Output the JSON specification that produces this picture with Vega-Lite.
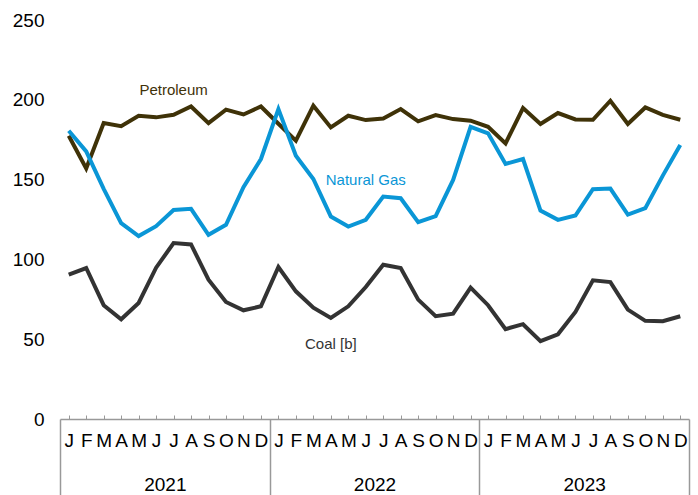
{
  "$schema": "https://vega.github.io/schema/vega-lite/v6.json",
  "autosize": "none",
  "width": 629,
  "height": 399,
  "padding": {"left": 60, "top": 20, "right": 9, "bottom": 76},
  "config": {"view": {"stroke": null}, "font": "Liberation Sans"},
  "datasets": {
    "series": [
      {"date": "2021-01", "series": "Coal", "value": 90.4},
      {"date": "2021-02", "series": "Coal", "value": 94.6},
      {"date": "2021-03", "series": "Coal", "value": 71.3},
      {"date": "2021-04", "series": "Coal", "value": 62.5},
      {"date": "2021-05", "series": "Coal", "value": 72.7},
      {"date": "2021-06", "series": "Coal", "value": 94.8},
      {"date": "2021-07", "series": "Coal", "value": 110.2},
      {"date": "2021-08", "series": "Coal", "value": 109.4},
      {"date": "2021-09", "series": "Coal", "value": 87.3},
      {"date": "2021-10", "series": "Coal", "value": 73.3},
      {"date": "2021-11", "series": "Coal", "value": 68.1},
      {"date": "2021-12", "series": "Coal", "value": 70.6},
      {"date": "2022-01", "series": "Coal", "value": 95.2},
      {"date": "2022-02", "series": "Coal", "value": 80},
      {"date": "2022-03", "series": "Coal", "value": 69.8},
      {"date": "2022-04", "series": "Coal", "value": 63.3},
      {"date": "2022-05", "series": "Coal", "value": 70.6},
      {"date": "2022-06", "series": "Coal", "value": 82.7},
      {"date": "2022-07", "series": "Coal", "value": 96.7},
      {"date": "2022-08", "series": "Coal", "value": 94.6},
      {"date": "2022-09", "series": "Coal", "value": 74.8},
      {"date": "2022-10", "series": "Coal", "value": 64.4},
      {"date": "2022-11", "series": "Coal", "value": 66},
      {"date": "2022-12", "series": "Coal", "value": 82.3},
      {"date": "2023-01", "series": "Coal", "value": 71.3},
      {"date": "2023-02", "series": "Coal", "value": 56.3},
      {"date": "2023-03", "series": "Coal", "value": 59.4},
      {"date": "2023-04", "series": "Coal", "value": 48.8},
      {"date": "2023-05", "series": "Coal", "value": 53.1},
      {"date": "2023-06", "series": "Coal", "value": 67.1},
      {"date": "2023-07", "series": "Coal", "value": 86.9},
      {"date": "2023-08", "series": "Coal", "value": 85.8},
      {"date": "2023-09", "series": "Coal", "value": 68.5},
      {"date": "2023-10", "series": "Coal", "value": 61.5},
      {"date": "2023-11", "series": "Coal", "value": 61.3},
      {"date": "2023-12", "series": "Coal", "value": 64.4},
      {"date": "2021-01", "series": "Petroleum", "value": 177.5},
      {"date": "2021-02", "series": "Petroleum", "value": 157},
      {"date": "2021-03", "series": "Petroleum", "value": 185.4},
      {"date": "2021-04", "series": "Petroleum", "value": 183.5},
      {"date": "2021-05", "series": "Petroleum", "value": 190},
      {"date": "2021-06", "series": "Petroleum", "value": 189},
      {"date": "2021-07", "series": "Petroleum", "value": 190.6},
      {"date": "2021-08", "series": "Petroleum", "value": 195.8},
      {"date": "2021-09", "series": "Petroleum", "value": 185.4},
      {"date": "2021-10", "series": "Petroleum", "value": 193.8},
      {"date": "2021-11", "series": "Petroleum", "value": 190.8},
      {"date": "2021-12", "series": "Petroleum", "value": 195.8},
      {"date": "2022-01", "series": "Petroleum", "value": 185},
      {"date": "2022-02", "series": "Petroleum", "value": 174.4},
      {"date": "2022-03", "series": "Petroleum", "value": 196.3},
      {"date": "2022-04", "series": "Petroleum", "value": 182.7},
      {"date": "2022-05", "series": "Petroleum", "value": 190},
      {"date": "2022-06", "series": "Petroleum", "value": 187.3},
      {"date": "2022-07", "series": "Petroleum", "value": 188.3},
      {"date": "2022-08", "series": "Petroleum", "value": 194.2},
      {"date": "2022-09", "series": "Petroleum", "value": 186.5},
      {"date": "2022-10", "series": "Petroleum", "value": 190.4},
      {"date": "2022-11", "series": "Petroleum", "value": 187.9},
      {"date": "2022-12", "series": "Petroleum", "value": 186.9},
      {"date": "2023-01", "series": "Petroleum", "value": 183.1},
      {"date": "2023-02", "series": "Petroleum", "value": 172.7},
      {"date": "2023-03", "series": "Petroleum", "value": 194.8},
      {"date": "2023-04", "series": "Petroleum", "value": 184.8},
      {"date": "2023-05", "series": "Petroleum", "value": 191.7},
      {"date": "2023-06", "series": "Petroleum", "value": 187.7},
      {"date": "2023-07", "series": "Petroleum", "value": 187.5},
      {"date": "2023-08", "series": "Petroleum", "value": 199.4},
      {"date": "2023-09", "series": "Petroleum", "value": 184.8},
      {"date": "2023-10", "series": "Petroleum", "value": 195.2},
      {"date": "2023-11", "series": "Petroleum", "value": 190.6},
      {"date": "2023-12", "series": "Petroleum", "value": 187.5},
      {"date": "2021-01", "series": "Natural Gas", "value": 180.6},
      {"date": "2021-02", "series": "Natural Gas", "value": 167.7},
      {"date": "2021-03", "series": "Natural Gas", "value": 144.2},
      {"date": "2021-04", "series": "Natural Gas", "value": 122.7},
      {"date": "2021-05", "series": "Natural Gas", "value": 114.6},
      {"date": "2021-06", "series": "Natural Gas", "value": 120.8},
      {"date": "2021-07", "series": "Natural Gas", "value": 131},
      {"date": "2021-08", "series": "Natural Gas", "value": 131.7},
      {"date": "2021-09", "series": "Natural Gas", "value": 115.4},
      {"date": "2021-10", "series": "Natural Gas", "value": 121.7},
      {"date": "2021-11", "series": "Natural Gas", "value": 145.2},
      {"date": "2021-12", "series": "Natural Gas", "value": 162.9},
      {"date": "2022-01", "series": "Natural Gas", "value": 194.2},
      {"date": "2022-02", "series": "Natural Gas", "value": 165},
      {"date": "2022-03", "series": "Natural Gas", "value": 150.4},
      {"date": "2022-04", "series": "Natural Gas", "value": 126.9},
      {"date": "2022-05", "series": "Natural Gas", "value": 120.6},
      {"date": "2022-06", "series": "Natural Gas", "value": 124.8},
      {"date": "2022-07", "series": "Natural Gas", "value": 139.4},
      {"date": "2022-08", "series": "Natural Gas", "value": 138.3},
      {"date": "2022-09", "series": "Natural Gas", "value": 123.3},
      {"date": "2022-10", "series": "Natural Gas", "value": 127.1},
      {"date": "2022-11", "series": "Natural Gas", "value": 149.8},
      {"date": "2022-12", "series": "Natural Gas", "value": 183.1},
      {"date": "2023-01", "series": "Natural Gas", "value": 179},
      {"date": "2023-02", "series": "Natural Gas", "value": 159.8},
      {"date": "2023-03", "series": "Natural Gas", "value": 162.9},
      {"date": "2023-04", "series": "Natural Gas", "value": 130.6},
      {"date": "2023-05", "series": "Natural Gas", "value": 124.8},
      {"date": "2023-06", "series": "Natural Gas", "value": 127.5},
      {"date": "2023-07", "series": "Natural Gas", "value": 144},
      {"date": "2023-08", "series": "Natural Gas", "value": 144.4},
      {"date": "2023-09", "series": "Natural Gas", "value": 128.1},
      {"date": "2023-10", "series": "Natural Gas", "value": 132.1},
      {"date": "2023-11", "series": "Natural Gas", "value": 152.5},
      {"date": "2023-12", "series": "Natural Gas", "value": 171.7}
    ],
    "labels": [
      {"date": "2021-07", "series": "Petroleum", "value": 206.3, "label": "Petroleum"},
      {"date": "2022-06", "series": "Natural Gas", "value": 150, "label": "Natural Gas"},
      {"date": "2022-04", "series": "Coal", "value": 47.3, "label": "Coal [b]"}
    ],
    "years": [
      {"year": "2021"},
      {"year": "2022"},
      {"year": "2023"}
    ]
  },
  "layer": [
    {
      "layer": [
        {
          "data": {"name": "series"},
          "mark": {"type": "line", "strokeWidth": 4, "strokeJoin": "miter"},
          "encoding": {
            "x": {
              "field": "date",
              "type": "ordinal",
              "scale": {"type": "point", "padding": 0.5},
              "axis": {
                "orient": "bottom",
                "title": null,
                "labelAngle": 0,
                "labelExpr": "['J','F','M','A','M','J','J','A','S','O','N','D'][toNumber(slice(datum.value, 5)) - 1]",
                "labelFontSize": 19,
                "labelColor": "#000000",
                "labelPadding": 16,
                "domainColor": "#999999",
                "domainWidth": 1.5,
                "tickColor": "#999999",
                "tickSize": -4,
                "tickWidth": 1
              }
            },
            "y": {
              "field": "value",
              "type": "quantitative",
              "scale": {"domain": [0, 250], "nice": false},
              "axis": {
                "title": null,
                "values": [0, 50, 100, 150, 200, 250],
                "grid": false,
                "domain": false,
                "ticks": false,
                "labelFontSize": 19,
                "labelColor": "#000000",
                "labelPadding": 16
              }
            },
            "color": {
              "field": "series",
              "type": "nominal",
              "scale": {"domain": ["Coal", "Petroleum", "Natural Gas"], "range": ["#333333", "#3f3208", "#0a96d6"]},
              "legend": null
            },
            "order": {"value": 0}
          }
        },
        {
          "data": {"name": "labels"},
          "mark": {"type": "text", "fontSize": 15, "baseline": "middle", "align": "center"},
          "encoding": {
            "x": {"field": "date", "type": "ordinal"},
            "y": {"field": "value", "type": "quantitative"},
            "text": {"field": "label"},
            "color": {"field": "series", "type": "nominal", "legend": null}
          }
        }
      ]
    },
    {
      "data": {"name": "years"},
      "mark": {"type": "point", "opacity": 0},
      "encoding": {
        "x": {
          "field": "year",
          "type": "ordinal",
          "scale": {"type": "band", "paddingInner": 0, "paddingOuter": 0},
          "axis": {
            "orient": "bottom",
            "title": null,
            "domain": false,
            "ticks": true,
            "tickBand": "extent",
            "tickSize": 76,
            "tickColor": "#999999",
            "tickWidth": 1.5,
            "labelAngle": 0,
            "labelFontSize": 19,
            "labelColor": "#000000",
            "labelPadding": -20
          }
        }
      }
    }
  ],
  "resolve": {"scale": {"x": "independent"}, "axis": {"x": "independent"}}
}
